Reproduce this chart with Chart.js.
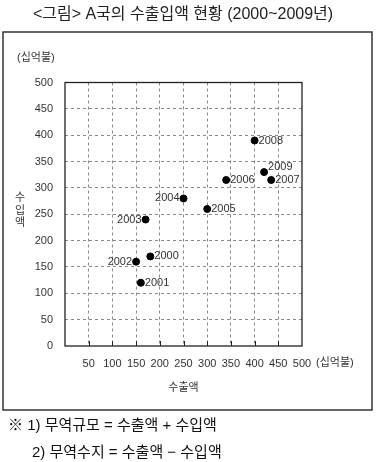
<!DOCTYPE html>
<html>
<head>
<meta charset="utf-8">
<script src="https://cdn.jsdelivr.net/npm/chart.js@4/dist/chart.umd.min.js"></script>
<style>
  html, body { margin: 0; padding: 0; background: #fff; }
  #wrap { width: 376px; height: 462px; position: relative; }
</style>
</head>
<body>
<div id="wrap"><canvas id="tradeChart" width="376" height="462"></canvas></div>
<script>
// 연도별 수출액 / 수입액 (십억불)
const years = ["2000", "2001", "2002", "2003", "2004", "2005", "2006", "2007", "2008", "2009"];
const exports = [180, 160, 150, 170, 250, 300, 340, 435, 400, 420];
const imports = [170, 120, 160, 240, 280, 260, 315, 315, 390, 330];
// 라벨 위치: 점의 오른쪽(r) / 왼쪽(l)
const labelSide = ["r", "r", "l", "l", "l", "r", "r", "r", "r", "r"];
const tickValues = [0, 50, 100, 150, 200, 250, 300, 350, 400, 450, 500];

const FONT = "'Liberation Sans', 'Noto Sans CJK KR', sans-serif";

const points = years.map(function (y, i) {
  return { x: exports[i], y: imports[i] };
});

const decorPlugin = {
  id: "decor",
  afterDraw: function (chart) {
    const c = chart.ctx;
    const area = chart.chartArea;
    const xs = chart.scales.x;
    c.save();

    // 제목
    c.fillStyle = "#222";
    c.font = "16px " + FONT;
    c.textAlign = "center";
    c.textBaseline = "middle";
    c.fillText("<그림> A국의 수출입액 현황 (2000~2009년)", 183, 15);

    // 바깥 상자
    c.strokeStyle = "#333";
    c.lineWidth = 1.5;
    c.strokeRect(3, 32, 369, 378);

    // 그래프 테두리
    c.strokeStyle = "#222";
    c.lineWidth = 1.3;
    c.strokeRect(area.left, area.top, area.right - area.left, area.bottom - area.top);

    // x축 안쪽 눈금
    c.lineWidth = 1;
    tickValues.forEach(function (v) {
      if (v === 0 || v === 500) return;
      const px = Math.round(xs.getPixelForValue(v)) + 0.5;
      c.beginPath();
      c.moveTo(px, area.bottom);
      c.lineTo(px, area.bottom - 5);
      c.stroke();
    });

    // 단위, 축 제목
    c.fillStyle = "#333";
    c.font = "11px " + FONT;
    c.textAlign = "left";
    c.fillText("(십억불)", 17, 58);
    c.fillText("(십억불)", area.right + 14, 363);
    c.textAlign = "center";
    c.fillText("수출액", (area.left + area.right) / 2, 388);
    c.fillText("수", 20, 198);
    c.fillText("입", 20, 211);
    c.fillText("액", 20, 223);

    // 점 라벨
    const meta = chart.getDatasetMeta(0);
    c.font = "11px " + FONT;
    c.fillStyle = "#333";
    meta.data.forEach(function (pt, i) {
      let dy = 0;
      if (years[i] === "2009") dy = -5;
      if (labelSide[i] === "l") {
        c.textAlign = "right";
        c.fillText(years[i], pt.x - 4, pt.y + dy);
      } else {
        c.textAlign = "left";
        c.fillText(years[i], pt.x + 4, pt.y + dy);
      }
    });

    // 주석
    c.fillStyle = "#111";
    c.font = "15px " + FONT;
    c.textAlign = "left";
    c.fillText("※ 1) 무역규모 = 수출액 + 수입액", 8, 426);
    c.fillText("2) 무역수지 = 수출액 − 수입액", 32, 453);

    c.restore();
  }
};

function gridColor(ctx) {
  const v = ctx.tick ? ctx.tick.value : null;
  return (v === 0 || v === 500) ? "rgba(0,0,0,0)" : "#8a8a8a";
}

new Chart(document.getElementById("tradeChart").getContext("2d"), {
  type: "scatter",
  data: {
    datasets: [
      {
        label: "수출입액",
        data: points,
        backgroundColor: "#000",
        borderColor: "#000",
        pointRadius: 3.5,
        pointHoverRadius: 3.5,
      },
    ],
  },
  options: {
    responsive: false,
    animation: false,
    events: [],
    layout: { padding: { left: 0, top: 82.5, right: 74, bottom: 86 } },
    plugins: { legend: { display: false }, tooltip: { enabled: false } },
    scales: {
      x: {
        type: "linear",
        min: 0,
        max: 500,
        afterFit: function (s) { s.height = 30; },
        afterBuildTicks: function (s) { s.ticks = tickValues.map(function (v) { return { value: v }; }); },
        border: { display: false, dash: [3, 3] },
        grid: { color: gridColor, tickLength: 0, lineWidth: 1, drawTicks: false },
        ticks: {
          padding: 11,
          maxRotation: 0,
          autoSkip: false,
          color: "#333",
          font: { size: 11, family: FONT },
          callback: function (v) { return v === 0 ? "" : String(v); },
        },
      },
      y: {
        type: "linear",
        min: 0,
        max: 500,
        afterFit: function (s) { s.width = 65; },
        afterBuildTicks: function (s) { s.ticks = tickValues.map(function (v) { return { value: v }; }); },
        border: { display: false, dash: [3, 3] },
        grid: { color: gridColor, tickLength: 0, lineWidth: 1, drawTicks: false },
        ticks: {
          padding: 12,
          autoSkip: false,
          color: "#333",
          font: { size: 11, family: FONT },
        },
      },
    },
  },
  plugins: [decorPlugin],
});
</script>
</body>
</html>
